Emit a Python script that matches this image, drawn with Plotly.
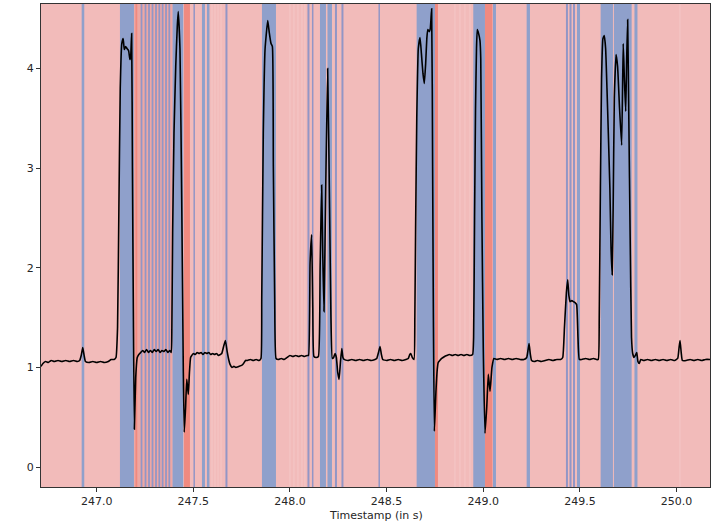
import plotly.graph_objects as go

# ---- data ----
signal = [
    (246.712, 1.01), (246.722, 1.04), (246.735, 1.06), (246.750, 1.05), (246.765, 1.07),
    (246.780, 1.06), (246.800, 1.07), (246.820, 1.06), (246.840, 1.07), (246.860, 1.06),
    (246.880, 1.07), (246.900, 1.06), (246.912, 1.07), (246.920, 1.12), (246.928, 1.20),
    (246.935, 1.12), (246.942, 1.06), (246.960, 1.05), (246.980, 1.06), (247.000, 1.05),
    (247.020, 1.06), (247.040, 1.05), (247.060, 1.06), (247.075, 1.08), (247.090, 1.08),
    (247.100, 1.10), (247.108, 1.40), (247.115, 2.60), (247.122, 3.80), (247.130, 4.25),
    (247.137, 4.30), (247.143, 4.19), (247.150, 4.22), (247.157, 4.20), (247.165, 4.18),
    (247.172, 4.09), (247.176, 4.12), (247.181, 4.35), (247.185, 3.00), (247.190, 1.50),
    (247.195, 0.38), (247.202, 0.90), (247.210, 1.10), (247.218, 1.13), (247.228, 1.15),
    (247.238, 1.17), (247.248, 1.15), (247.258, 1.18), (247.268, 1.15), (247.278, 1.17),
    (247.288, 1.15), (247.298, 1.18), (247.308, 1.16), (247.318, 1.18), (247.328, 1.15),
    (247.338, 1.17), (247.348, 1.16), (247.358, 1.18), (247.368, 1.15), (247.378, 1.17),
    (247.386, 1.15), (247.389, 1.40), (247.393, 2.35), (247.400, 3.35), (247.409, 4.02),
    (247.417, 4.42), (247.422, 4.57), (247.431, 4.19), (247.440, 2.68), (247.448, 1.01),
    (247.453, 0.35), (247.460, 0.60), (247.466, 0.88), (247.474, 0.73), (247.480, 0.95),
    (247.486, 1.10), (247.492, 1.12), (247.500, 1.14), (247.510, 1.13), (247.520, 1.15),
    (247.530, 1.14), (247.540, 1.15), (247.550, 1.13), (247.560, 1.15), (247.570, 1.14),
    (247.580, 1.15), (247.590, 1.13), (247.600, 1.14), (247.610, 1.13), (247.620, 1.14),
    (247.630, 1.12), (247.640, 1.13), (247.647, 1.14), (247.658, 1.22), (247.666, 1.27),
    (247.675, 1.16), (247.683, 1.08), (247.690, 1.03), (247.700, 1.00), (247.710, 1.01),
    (247.720, 1.00), (247.735, 1.01), (247.750, 1.02), (247.760, 1.04), (247.770, 1.07),
    (247.780, 1.07), (247.795, 1.08), (247.810, 1.07), (247.825, 1.08), (247.840, 1.07),
    (247.850, 1.09), (247.854, 1.68), (247.862, 3.35), (247.871, 4.19), (247.885, 4.48),
    (247.893, 4.36), (247.902, 4.25), (247.909, 4.22), (247.914, 3.02), (247.921, 1.68),
    (247.928, 1.09), (247.940, 1.08), (247.955, 1.09), (247.970, 1.08), (247.985, 1.10),
    (248.000, 1.12), (248.015, 1.11), (248.030, 1.12), (248.045, 1.11), (248.060, 1.12),
    (248.075, 1.11), (248.090, 1.12), (248.096, 1.12), (248.104, 2.05), (248.112, 2.33),
    (248.118, 1.60), (248.124, 1.11), (248.135, 1.10), (248.147, 1.11), (248.156, 2.00),
    (248.164, 2.83), (248.170, 2.10), (248.176, 1.56), (248.185, 2.80), (248.195, 4.00),
    (248.205, 2.60), (248.212, 1.50), (248.219, 1.09), (248.226, 1.10), (248.233, 1.14),
    (248.240, 1.10), (248.247, 0.95), (248.254, 0.88), (248.261, 1.05), (248.268, 1.19),
    (248.274, 1.10), (248.280, 1.08), (248.300, 1.07), (248.320, 1.08), (248.340, 1.07),
    (248.360, 1.08), (248.380, 1.07), (248.400, 1.08), (248.420, 1.07), (248.440, 1.08),
    (248.449, 1.09), (248.458, 1.15), (248.466, 1.21), (248.473, 1.13), (248.480, 1.08),
    (248.500, 1.07), (248.520, 1.08), (248.540, 1.07), (248.560, 1.08), (248.580, 1.07),
    (248.600, 1.08), (248.612, 1.09), (248.620, 1.13), (248.625, 1.14), (248.633, 1.10),
    (248.642, 1.08), (248.646, 1.50), (248.650, 2.40), (248.656, 3.50), (248.664, 4.20),
    (248.673, 4.31), (248.680, 4.15), (248.688, 3.95), (248.695, 3.85), (248.702, 4.05),
    (248.708, 4.30), (248.713, 4.39), (248.721, 4.37), (248.726, 4.40), (248.733, 4.60),
    (248.738, 3.00), (248.742, 1.50), (248.747, 0.36), (248.755, 0.75), (248.762, 0.98),
    (248.767, 1.05), (248.775, 1.07), (248.785, 1.09), (248.800, 1.11), (248.811, 1.12),
    (248.825, 1.13), (248.840, 1.12), (248.855, 1.13), (248.870, 1.12), (248.885, 1.13),
    (248.900, 1.12), (248.915, 1.13), (248.930, 1.12), (248.945, 1.13), (248.950, 1.30),
    (248.955, 2.50), (248.960, 3.60), (248.965, 4.20), (248.969, 4.39), (248.976, 4.35),
    (248.983, 4.28), (248.987, 4.10), (248.993, 2.50), (249.000, 1.20), (249.009, 0.34),
    (249.018, 0.60), (249.026, 0.93), (249.035, 0.76), (249.045, 1.00), (249.055, 1.09),
    (249.070, 1.08), (249.090, 1.09), (249.110, 1.08), (249.130, 1.09), (249.150, 1.08),
    (249.170, 1.09), (249.190, 1.08), (249.210, 1.08), (249.225, 1.10), (249.232, 1.18),
    (249.237, 1.24), (249.243, 1.14), (249.250, 1.07), (249.265, 1.06), (249.280, 1.07),
    (249.300, 1.06), (249.320, 1.07), (249.340, 1.08), (249.360, 1.07), (249.380, 1.08),
    (249.400, 1.08), (249.411, 1.10), (249.420, 1.40), (249.430, 1.75), (249.437, 1.88),
    (249.443, 1.72), (249.449, 1.66), (249.458, 1.67), (249.467, 1.66), (249.475, 1.65),
    (249.483, 1.63), (249.490, 1.30), (249.497, 1.08), (249.510, 1.08), (249.530, 1.09),
    (249.550, 1.08), (249.570, 1.09), (249.585, 1.08), (249.595, 1.08), (249.600, 1.50),
    (249.606, 2.80), (249.612, 3.90), (249.619, 4.30), (249.626, 4.33), (249.633, 4.20),
    (249.640, 3.80), (249.647, 3.35), (249.655, 2.80), (249.661, 2.20), (249.667, 1.93),
    (249.672, 2.60), (249.678, 3.70), (249.687, 4.14), (249.695, 4.02), (249.705, 3.60),
    (249.716, 3.23), (249.724, 4.25), (249.730, 3.90), (249.737, 3.57), (249.742, 4.10),
    (249.747, 4.49), (249.753, 3.50), (249.760, 2.30), (249.767, 1.30), (249.773, 1.14),
    (249.780, 1.10), (249.787, 1.12), (249.794, 1.15), (249.800, 1.06), (249.807, 1.04),
    (249.815, 1.08), (249.830, 1.07), (249.850, 1.08), (249.870, 1.07), (249.890, 1.08),
    (249.910, 1.07), (249.930, 1.08), (249.950, 1.07), (249.970, 1.08), (249.990, 1.07),
    (250.006, 1.09), (250.013, 1.20), (250.018, 1.27), (250.024, 1.15), (250.030, 1.07),
    (250.050, 1.07), (250.070, 1.08), (250.090, 1.07), (250.110, 1.08), (250.130, 1.07),
    (250.150, 1.08), (250.173, 1.08),
]
signal_t = [p[0] for p in signal]
signal_v = [p[1] for p in signal]

blue_start = [246.9224, 247.1205, 247.2274, 247.2481, 247.2662, 247.2843, 247.3024, 247.3195,
              247.3366, 247.3542, 247.3712, 247.3924, 247.5007, 247.5447, 247.5706, 247.6663,
              247.8551, 248.0905, 248.1137, 248.1552, 248.1940, 248.2327, 248.2664, 248.4578,
              248.6554, 248.9483, 249.0502, 249.2245, 249.4278, 249.4462, 249.4643, 249.4850,
              249.6073, 249.6760, 249.7822]
blue_end = [246.9358, 247.1929, 247.2366, 247.2573, 247.2754, 247.2935, 247.3116, 247.3287,
            247.3458, 247.3634, 247.3804, 247.4479, 247.5085, 247.5602, 247.5835, 247.6766,
            247.9276, 248.1008, 248.1215, 248.1862, 248.2173, 248.2431, 248.2767, 248.4656,
            248.7501, 249.0088, 249.0657, 249.2417, 249.4381, 249.4566, 249.4747, 249.5005,
            249.6709, 249.7676, 249.7977]

red_start = [247.2007, 247.4519, 248.7501, 249.0088]
red_end = [247.2100, 247.4826, 248.7656, 249.0476]

mid_start = [247.1929]
mid_end = [247.3924]

pale_center = [247.5967, 247.6123, 247.6278, 247.6433, 248.0000, 248.0207, 248.0414,
               248.0621, 248.0776, 248.8536, 248.8795, 248.9053, 248.9312, 250.0176]

x_ticks = [247.0, 247.5, 248.0, 248.5, 249.0, 249.5, 250.0]
x_tick_labels = ["247.0", "247.5", "248.0", "248.5", "249.0", "249.5", "250.0"]
y_ticks = [0, 1, 2, 3, 4]
y_tick_labels = ["0", "1", "2", "3", "4"]

# ---- styles ----
PINK = "#F2BBBA"
BLUE = "#8FA0CB"
STRIPE = "#9296C6"
RED = "#F08A80"
MID = "#EFA7A3"
PALE = "#F6CACA"
AXIS = "#333333"


def rect(a, b, color):
    return dict(type="rect", xref="x", yref="paper", x0=a, x1=b, y0=0, y1=1,
                fillcolor=color, line=dict(width=0), layer="below")


shapes = []
for a, b in zip(mid_start, mid_end):
    shapes.append(rect(a, b, MID))
for a, b in zip(red_start, red_end):
    shapes.append(rect(a, b, RED))
for c in pale_center:
    shapes.append(rect(c - 0.0020, c + 0.0020, PALE))
for a, b in zip(blue_start, blue_end):
    color = BLUE if (b - a) > 0.012 else STRIPE
    shapes.append(rect(a, b, color))

fig = go.Figure()
fig.add_trace(go.Scatter(x=signal_t, y=signal_v, mode="lines",
                         line=dict(color="black", width=1.6, shape="spline", smoothing=0.4),
                         showlegend=False, hoverinfo="skip"))

fig.update_layout(
    width=717, height=523,
    margin=dict(l=41, r=7, t=4, b=36, autoexpand=False),
    paper_bgcolor="white",
    plot_bgcolor=PINK,
    shapes=shapes,
    font=dict(family="DejaVu Sans", size=11, color="#262626"),
    xaxis=dict(range=[246.712, 250.173], tickvals=x_ticks, ticktext=x_tick_labels,
               ticks="outside", ticklen=4, tickwidth=1, tickcolor=AXIS,
               showline=True, linecolor=AXIS, linewidth=1, mirror=True,
               showgrid=False, zeroline=False, automargin=False),
    yaxis=dict(range=[-0.2, 4.647], tickvals=y_ticks, ticktext=y_tick_labels,
               ticks="outside", ticklen=4, tickwidth=1, tickcolor=AXIS,
               showline=True, linecolor=AXIS, linewidth=1, mirror=True,
               showgrid=False, zeroline=False, automargin=False),
    annotations=[dict(text="Timestamp (in s)", xref="paper", yref="paper",
                      x=0.5, y=-0.06, xanchor="center", yanchor="middle",
                      showarrow=False, font=dict(size=11, color="#262626"))],
)

fig.write_html(
    "out.html",
    config={"displayModeBar": False},
    post_script="document.body.style.margin='0px';document.body.style.overflow='hidden';",
)
